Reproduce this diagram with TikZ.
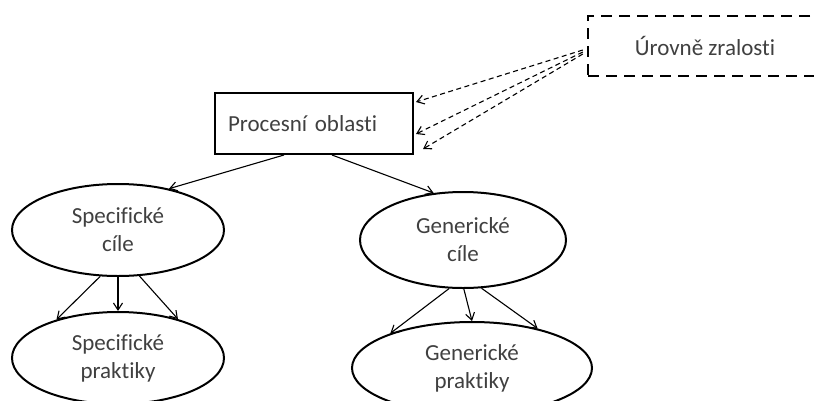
\documentclass[tikz,border=0pt]{standalone}
\usepackage{fontspec}
\setmainfont{Carlito}[Ligatures=NoCommon]
\usetikzlibrary{shapes.geometric,arrows.meta,calc}
\begin{document}
\begin{tikzpicture}[x=1pt,y=-1pt,
  lbl/.style={font=\fontsize{23}{28}\selectfont, text=black!75},
  oval/.style={ellipse, draw, line width=2pt, inner sep=0pt, align=center, lbl},
  arr/.style={-{Straight Barb[length=7pt,width=9pt]}, line width=1.1pt},
  darr/.style={arr, dash pattern=on 5pt off 3.5pt}]
\useasboundingbox (0,0) rectangle (814,400);
\clip (0,0) rectangle (814,400);
\node[draw, dash pattern=on 11pt off 7pt, line width=2.4pt, minimum width=234pt, minimum height=60pt, lbl] (ur) at (705,46) {Úrovně zralosti};
\node[draw, line width=2pt, inner xsep=13pt, text width=172pt, align=left, minimum height=61pt, lbl] (proc) at (314,123.5) {Procesní oblasti};
\node[oval, minimum width=212pt, minimum height=92pt] (sc) at (118,230) {Specifické\\cíle};
\node[oval, minimum width=206pt, minimum height=96pt] (gc) at (463,240) {Generické\\cíle};
\node[oval, minimum width=212pt, minimum height=92pt] (sp) at (118,358) {Specifické\\praktiky};
\node[oval, minimum width=240pt, minimum height=92pt] (gp) at (472,368) {Generické\\praktiky};
\draw[arr] ([xshift=70pt]proc.south west) -- (sc.39);
\draw[arr] ([xshift=118pt]proc.south west) -- (gc.122);
\draw[arr] (sc.249) -- (sp.148);
\draw[arr] (sc.270) -- (sp.90);
\draw[arr] (sc.295) -- (sp.33);
\draw[arr] (gc.254) -- (gp.157);
\draw[arr] (gc.271) -- (gp.90);
\draw[arr] (gc.291) -- (gp.31);
\draw[darr] ([xshift=-4pt,yshift=-4pt]ur.west) -- ([xshift=2pt,yshift=-10pt]proc.north east);
\draw[darr] ([xshift=-4pt,yshift=-6pt]ur.west) -- ([xshift=2pt,yshift=-42pt]proc.north east);
\draw[darr] ([xshift=-4pt,yshift=-8pt]ur.west) -- ([xshift=9pt,yshift=-57pt]proc.north east);
\end{tikzpicture}
\end{document}
